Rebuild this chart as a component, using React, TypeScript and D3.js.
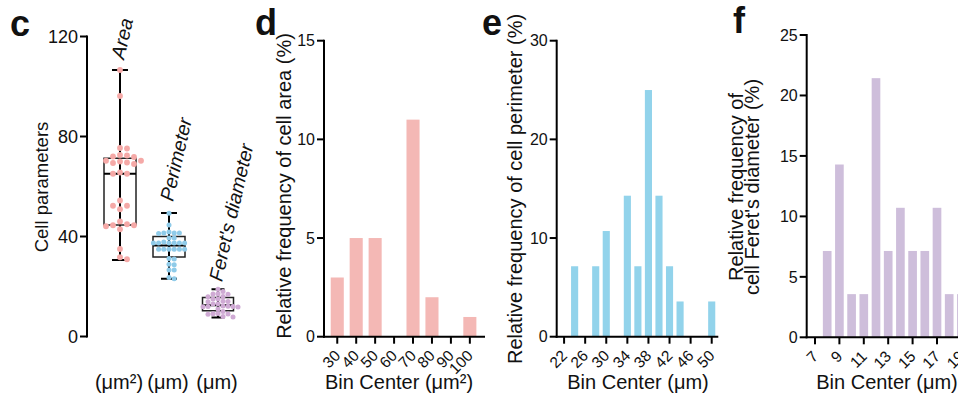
import React from 'react';
import * as d3 from 'd3';

const FONT = "'Liberation Sans', Arial, Helvetica, sans-serif";

// ---- panel c: cell parameters (box + dots) ----
const paramNames = ['Area', 'Perimeter', "Feret's diameter"];
const paramUnits = ['(μm²)', '(μm)', '(μm)'];
const areaVals = [106.6, 96.2, 75.2, 75.4, 72.4, 72.0, 72.6, 71.8, 70.0, 69.4, 69.6, 70.3, 70.3, 69.0,
  65.6, 65.1, 65.1, 54.4, 52.3, 52.3, 50.9, 44.5, 44.5, 44.9, 46.0, 44.1, 42.9, 35.0, 30.9, 31.7];
const perimVals = [49.3, 44.6, 41.4, 41.4, 41.8, 41.2, 41.4, 39.4, 39.4, 37.4, 37.4, 37.4, 37.4, 37.4, 37.4,
  37.8, 34.9, 34.9, 34.9, 34.9, 34.9, 34.9, 31.0, 31.2, 28.7, 28.9, 26.6, 26.6, 23.6, 23.1];
const feretVals = [18.9, 18.0, 17.0, 17.1, 16.9, 16.0, 15.9, 15.0, 15.1, 14.0, 14.1, 13.9, 13.0, 13.1,
  12.0, 11.9, 12.1, 12.2, 11.8, 12.0, 11.0, 10.0, 9.0, 9.1, 8.9, 9.2, 8.0, 7.8];
// [min, q1, median, q3, max]
const areaBox = [30.6, 44.6, 65.1, 71.3, 106.6];
const perimBox = [23.1, 31.8, 36.4, 40.0, 49.4];
const feretBox = [7.6, 10.3, 12.5, 15.6, 18.9];
const cTicks = [0, 40, 80, 120];

// ---- panel d: cell area histogram ----
const areaBins = [30, 40, 50, 60, 70, 80, 90, 100];
const areaFreq = [3, 5, 5, 0, 11, 2, 0, 1];
const dXTicks = [30, 40, 50, 60, 70, 80, 90, 100];
const dYTicks = [0, 5, 10, 15];

// ---- panel e: cell perimeter histogram ----
const perimBins = [24, 28, 30, 34, 36, 38, 40, 42, 44, 50];
const perimFreq = [7.14, 7.14, 10.71, 14.29, 7.14, 25, 14.29, 7.14, 3.57, 3.57];
const eXTicks = [22, 26, 30, 34, 38, 42, 46, 50];
const eYTicks = [0, 10, 20, 30];

// ---- panel f: Feret's diameter histogram ----
const feretBins = [8, 9, 10, 11, 12, 13, 14, 15, 16, 17, 18, 19];
const feretFreq = [7.14, 14.29, 3.57, 3.57, 21.43, 7.14, 10.71, 7.14, 7.14, 10.71, 3.57, 3.57];
const fXTicks = [7, 9, 11, 13, 15, 17, 19];
const fYTicks = [0, 5, 10, 15, 20, 25];

const PINK = '#f4b8b5';
const BLUE = '#92d3eb';
const PURPLE = '#cebedb';

// simple beeswarm: fixed horizontal step, push dots sideways until they don't overlap
function swarm(vals: number[], y: (v: number) => number, step: number) {
  const placed: { cx: number; cy: number }[] = [];
  const sorted = [...vals].sort((a, b) => b - a);
  for (const v of sorted) {
    const cy = y(v);
    for (let i = 0; i < 40; i++) {
      const k = i === 0 ? 0 : (i % 2 ? (i + 1) / 2 : -i / 2);
      const cx = k * step;
      const ok = placed.every(p => Math.hypot(p.cx - cx, p.cy - cy) >= step * 0.9);
      if (ok) { placed.push({ cx, cy }); break; }
    }
  }
  return placed;
}

function PanelC() {
  const y = d3.scaleLinear().domain([0, 120]).range([336.5, 36.5]);
  const x = d3.scalePoint().domain(paramNames).range([120, 218]);
  const ax = 87;
  const groups = [
    { vals: areaVals, box: areaBox, dot: '#f5a9a7', r: 2.9, step: 7, cap: 16, bw: 32, off: 10 },
    { vals: perimVals, box: perimBox, dot: '#8fcbe9', r: 2.5, step: 5.2, cap: 16, bw: 32, off: 11 },
    { vals: feretVals, box: feretBox, dot: '#cfaad4', r: 2.5, step: 5, cap: 13, bw: 31, off: 7 },
  ];
  return (
    <g>
      <text x={10} y={36} fontSize={36} fontWeight="bold">c</text>
      <line x1={ax} x2={ax} y1={y(0) + 1} y2={y(120) - 1} stroke="#000" strokeWidth={2} />
      {cTicks.map(t => (
        <g key={t}>
          <line x1={ax - 7} x2={ax} y1={y(t)} y2={y(t)} stroke="#000" strokeWidth={2} />
          <text x={ax - 9} y={y(t)} dy="0.36em" textAnchor="end" fontSize={18}>{t}</text>
        </g>
      ))}
      <text transform={`translate(48,187) rotate(-90)`} textAnchor="middle" fontSize={18.5}>Cell parameters</text>
      {groups.map((g, i) => {
        const cx = x(paramNames[i]) as number;
        const [mn, q1, md, q3, mx] = g.box;
        const pts = swarm(g.vals, y, g.step);
        return (
          <g key={i}>
            <line x1={cx} x2={cx} y1={y(mx)} y2={y(mn)} stroke="#000" strokeWidth={2} />
            <rect x={cx - g.bw / 2} y={y(q3)} width={g.bw} height={y(q1) - y(q3)} fill="none" stroke="#222" strokeWidth={1.5} />
            <line x1={cx - g.bw / 2} x2={cx + g.bw / 2} y1={y(md)} y2={y(md)} stroke="#000" strokeWidth={2} />
            <line x1={cx - g.cap / 2} x2={cx + g.cap / 2} y1={y(mx)} y2={y(mx)} stroke="#000" strokeWidth={2} />
            <line x1={cx - g.cap / 2} x2={cx + g.cap / 2} y1={y(mn)} y2={y(mn)} stroke="#000" strokeWidth={2} />
            {pts.map((p, j) => (
              <circle key={j} cx={cx + p.cx} cy={p.cy} r={g.r} fill={g.dot} />
            ))}
            <text transform={`translate(${cx + 4},${y(mx) - g.off}) rotate(-77)`} fontSize={19.5} fontStyle="italic">{paramNames[i]}</text>
            <text x={cx - 1} y={389} textAnchor="middle" fontSize={20}>{paramUnits[i]}</text>
          </g>
        );
      })}
    </g>
  );
}

type HistProps = {
  letter: string; letterX: number; letterY: number;
  bins: number[]; freq: number[]; binW: number; color: string;
  x: d3.ScaleLinear<number, number>; y: d3.ScaleLinear<number, number>;
  xTicks: number[]; yTicks: number[]; axisEnd: number;
  yTitle: string[]; yTitleX: number; yTitleY: number; xTitle: string; xTitleX: number;
};

function Hist(p: HistProps) {
  const { x, y } = p;
  const x0 = x.range()[0];
  const y0 = y(0);
  const yTop = y(p.yTicks[p.yTicks.length - 1]);
  return (
    <g>
      <text x={p.letterX} y={p.letterY} fontSize={36} fontWeight="bold">{p.letter}</text>
      {p.bins.map((b, i) => (
        <rect key={b} x={x(b - p.binW / 2)} width={x(b + p.binW / 2) - x(b - p.binW / 2)}
          y={y(p.freq[i])} height={y0 - y(p.freq[i])} fill={p.color} />
      ))}
      <line x1={x0} x2={x0} y1={y0 + 1} y2={yTop - 1} stroke="#000" strokeWidth={2} />
      {p.yTicks.map(t => (
        <g key={t}>
          <line x1={x0 - 7} x2={x0} y1={y(t)} y2={y(t)} stroke="#000" strokeWidth={2} />
          <text x={x0 - 9} y={y(t)} dy="0.36em" textAnchor="end" fontSize={16}>{t}</text>
        </g>
      ))}
      <line x1={x0 - 1} x2={p.axisEnd} y1={y0} y2={y0} stroke="#000" strokeWidth={2} />
      {p.xTicks.map(t => (
        <g key={t}>
          <line x1={x(t)} x2={x(t)} y1={y0} y2={y0 + 7} stroke="#000" strokeWidth={2} />
          <text transform={`translate(${x(t) + 4},${y0 + 20}) rotate(-45)`} textAnchor="end" fontSize={15.5}>{t}</text>
        </g>
      ))}
      {p.yTitle.map((s, i) => (
        <text key={i} transform={`translate(${p.yTitleX + i * 15.5},${p.yTitleY}) rotate(-90)`} textAnchor="middle" fontSize={20}>{s}</text>
      ))}
      <text x={p.xTitleX} y={389} textAnchor="middle" fontSize={20}>{p.xTitle}</text>
    </g>
  );
}

export default function App() {
  const dx = d3.scaleLinear().domain([23, 108]).range([324, 485]);
  const dy = d3.scaleLinear().domain([0, 15]).range([336.7, 40.7]);
  const ex = d3.scaleLinear().domain([20.6, 51.25]).range([556.7, 718.3]);
  const ey = d3.scaleLinear().domain([0, 30]).range([336.7, 40.7]);
  const fx = d3.scaleLinear().domain([6.32, 20]).range([806.7, 973.6]);
  const fy = d3.scaleLinear().domain([0, 25]).range([337.3, 35]);
  return (
    <div style={{ position: 'absolute', left: 0, top: 0 }}>
      <svg width={958} height={397} style={{ display: 'block', background: '#fff' }} fontFamily={FONT} fill="#111">
        <PanelC />
        <Hist letter="d" letterX={255} letterY={35} bins={areaBins} freq={areaFreq} binW={6.9} color={PINK}
          x={dx} y={dy} xTicks={dXTicks} yTicks={dYTicks} axisEnd={485}
          yTitle={['Relative frequency of cell area (%)']} yTitleX={291} yTitleY={186} xTitle="Bin Center (μm²)" xTitleX={399} />
        <Hist letter="e" letterX={482} letterY={35} bins={perimBins} freq={perimFreq} binW={1.35} color={BLUE}
          x={ex} y={ey} xTicks={eXTicks} yTicks={eYTicks} axisEnd={718.3}
          yTitle={['Relative frequency of cell perimeter (%)']} yTitleX={522} yTitleY={189} xTitle="Bin Center (μm)" xTitleX={638} />
        <Hist letter="f" letterX={733} letterY={33} bins={feretBins} freq={feretFreq} binW={0.71} color={PURPLE}
          x={fx} y={fy} xTicks={fXTicks} yTicks={fYTicks} axisEnd={975}
          yTitle={['Relative frequency of', "cell Feret's diameter (%)"]} yTitleX={743} yTitleY={187} xTitle="Bin Center (μm)" xTitleX={887} />
      </svg>
    </div>
  );
}
